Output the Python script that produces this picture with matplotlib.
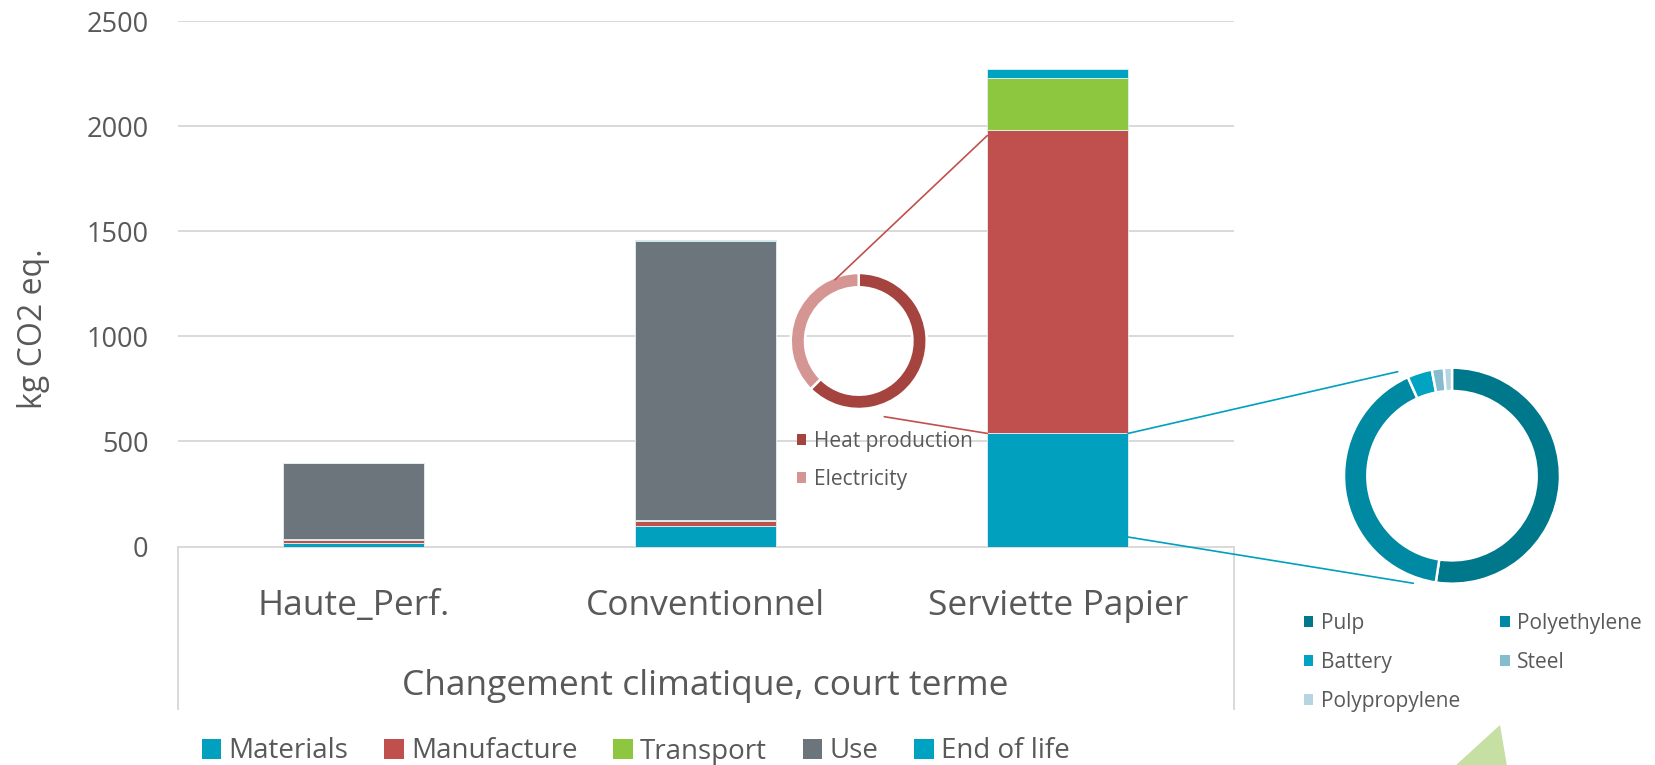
import matplotlib
matplotlib.use("Agg")
import matplotlib.pyplot as plt
from matplotlib.patches import Patch, Polygon, ConnectionPatch
import numpy as np

plt.rcParams['font.family'] = ['Open Sans', 'DejaVu Sans']

# ---------------- data ----------------
categories = ["Haute_Perf.", "Conventionnel", "Serviette Papier"]
series_names = ["Materials", "Manufacture", "Transport", "Use", "End of life"]
materials = [16, 97, 538]
manufacture = [14, 22, 1442]
transport = [4, 6, 251]
use = [362, 1330, 0]
end_of_life = [2, 2, 39]
series_colors = ["#00A0BE", "#C0504D", "#8DC63F", "#6D757C", "#00A2C1"]

yticks = [0, 500, 1000, 1500, 2000, 2500]
ylabel = "kg CO2 eq."
xlabel = "Changement climatique, court terme"

manu_labels = ["Heat production", "Electricity"]
manu_share = [62.5, 37.5]
manu_colors = ["#A5443F", "#D49593"]

mat_labels = ["Pulp", "Polyethylene", "Battery", "Steel", "Polypropylene"]
mat_share = [52.4, 40.9, 3.7, 1.8, 1.2]
mat_colors = ["#00788C", "#0089A3", "#00A3C1", "#86BDCE", "#B7D4E1"]

TXT = "#595959"
GRID = "#D9D9D9"

W, H = 1655, 765
fig = plt.figure(figsize=(W / 100, H / 100), dpi=100)

def fx(px):
    return px / W

def fy(py):
    return (H - py) / H

ax_left, ax_right, ax_top, ax_bot = 177.7, 1233.7, 21.0, 546.5
ax = fig.add_axes([fx(ax_left), fy(ax_bot), (ax_right - ax_left) / W, (ax_bot - ax_top) / H])

x = np.arange(len(categories))
bw = 0.4
stack = [materials, manufacture, transport, use, end_of_life]
bottom = np.zeros(len(categories))
for name, vals, col in zip(series_names, stack, series_colors):
    v = np.array(vals, dtype=float)
    ax.bar(x, v, bw, bottom=bottom, color=col, edgecolor="#E4F1F4", linewidth=0.6,
           label=name, zorder=3)
    bottom += v

ax.set_xlim(-0.5, len(categories) - 0.5)
ax.set_ylim(0, 2500)
ax.set_yticks(yticks)
ax.set_yticklabels([str(t) for t in yticks])
ax.set_xticks(x)
ax.set_xticklabels(categories)
ax.grid(axis="y", color=GRID, linewidth=1.4, zorder=0)
ax.set_axisbelow(True)
for s in ["top", "right", "left"]:
    ax.spines[s].set_visible(False)
ax.spines["bottom"].set_color(GRID)
ax.spines["bottom"].set_linewidth(1.4)
ax.tick_params(axis="y", length=0, labelsize=19.5, labelcolor=TXT, pad=21)
ax.tick_params(axis="x", length=0, labelsize=25.5, labelcolor=TXT, pad=30.5)

ax.set_ylabel(ylabel, fontsize=23, color=TXT, va="center")
ax.yaxis.set_label_coords((34 - ax_left) / (ax_right - ax_left), (ax_bot - 329) / (ax_bot - ax_top))
ax.set_xlabel(xlabel, fontsize=25.5, color=TXT, va="center")
ax.xaxis.set_label_coords(0.5, -(686 - ax_bot) / (ax_bot - ax_top))

# category box lines below axis
box_depth = (709.3 - ax_bot) / (ax_bot - ax_top)
for xx in (0, 1):
    ax.plot([xx, xx], [0, -box_depth], transform=ax.transAxes, color=GRID,
            linewidth=1.4, clip_on=False)

# ---------------- donuts ----------------
def donut_axes(cx, cy, r):
    return fig.add_axes([fx(cx - r), fy(cy + r), 2 * r / W, 2 * r / H])

d1 = donut_axes(858.7, 341.0, 68.0)
d1.pie(manu_share, colors=manu_colors, startangle=90, counterclock=False,
       wedgeprops=dict(width=0.21, edgecolor="white", linewidth=1.8))
d1.set_xlim(-1, 1); d1.set_ylim(-1, 1); d1.set_aspect("equal"); d1.axis("off")

d2 = donut_axes(1452.0, 475.7, 108.0)
d2.pie(mat_share, colors=mat_colors, startangle=90, counterclock=False,
       wedgeprops=dict(width=0.216, edgecolor="white", linewidth=1.8))
d2.set_xlim(-1, 1); d2.set_ylim(-1, 1); d2.set_aspect("equal"); d2.axis("off")

# connectors (bar of pie style)
i3 = len(categories) - 1
mat_top = materials[i3]
manu_top = materials[i3] + manufacture[i3]
red = "#C0504D"
cyan = "#00A0BE"
for yA, xyB in [(manu_top - 25, (-0.35, 0.90)), (mat_top, (0.376, -1.113))]:
    fig.add_artist(ConnectionPatch(xyA=(i3 - bw / 2, yA), coordsA=ax.transData,
                                   xyB=xyB, coordsB=d1.transData, color=red, linewidth=1.2))
for yA, xyB in [(mat_top, (-0.503, 0.963)), (45, (-0.358, -0.996))]:
    fig.add_artist(ConnectionPatch(xyA=(i3 + bw / 2, yA), coordsA=ax.transData,
                                   xyB=xyB, coordsB=d2.transData, color=cyan, linewidth=1.2))

# ---------------- legends ----------------
h_main = [Patch(facecolor=c, edgecolor="none") for c in series_colors]
fig.legend(h_main, series_names, loc="center left", bbox_to_anchor=(fx(202), fy(751.5)),
           ncol=5, frameon=False, fontsize=20, handlelength=0.7, handleheight=0.7,
           handletextpad=0.25, columnspacing=1.3, borderpad=0, borderaxespad=0,
           labelcolor=TXT)

h_manu = [Patch(facecolor=c, edgecolor="none") for c in manu_colors]
fig.legend(h_manu, manu_labels, loc="center left", bbox_to_anchor=(fx(796.7), fy(460.5)),
           ncol=1, frameon=False, fontsize=15, handlelength=0.45, handleheight=0.45,
           handletextpad=0.38, labelspacing=0.8, borderpad=0, borderaxespad=0,
           labelcolor=TXT)

order = [0, 2, 4, 1, 3]
h_mat = [Patch(facecolor=mat_colors[i], edgecolor="none") for i in order]
fig.legend(h_mat, [mat_labels[i] for i in order], loc="center left",
           bbox_to_anchor=(fx(1304), fy(662.5)), ncol=2, frameon=False, fontsize=15,
           handlelength=0.45, handleheight=0.45, handletextpad=0.38, labelspacing=0.85,
           columnspacing=1.9, borderpad=0, borderaxespad=0, labelcolor=TXT)

# decorative green shape at the bottom right
tri = Polygon([(fx(1500), fy(725)), (fx(1455), fy(766)), (fx(1507), fy(766))],
              closed=True, transform=fig.transFigure, facecolor="#C6E0A4", edgecolor="none")
fig.add_artist(tri)

fig.savefig("out.png", dpi=100, facecolor="white")
